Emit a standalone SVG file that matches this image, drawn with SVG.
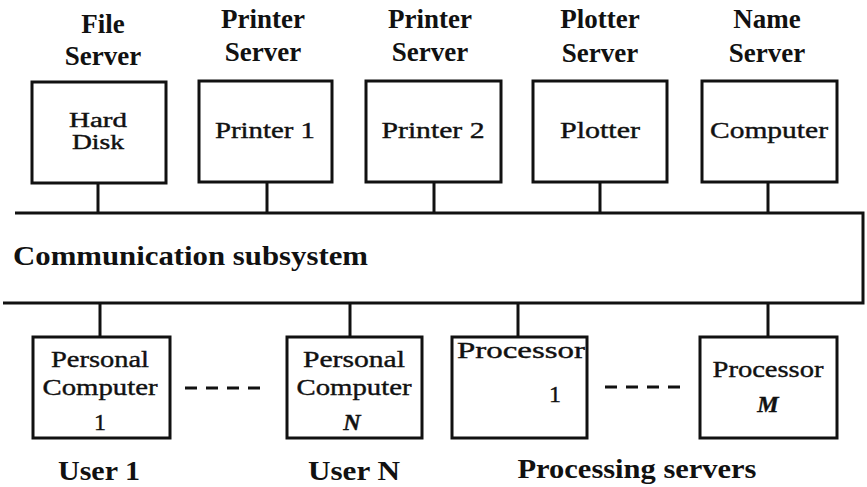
<svg xmlns="http://www.w3.org/2000/svg" width="867" height="487" viewBox="0 0 867 487">
  <style>
    .box { fill: #fff; stroke: #111; stroke-width: 3; }
    .wire { stroke: #111; stroke-width: 3; fill: none; }
    .dash { stroke: #111; stroke-width: 3; stroke-dasharray: 12 9; fill: none; }
    .hdr { font-family: "Liberation Serif", "Times New Roman", serif; font-size: 27px; font-weight: bold; fill: #111; text-anchor: middle; }
    .lbl { font-family: "Liberation Serif", "Times New Roman", serif; font-size: 24px; fill: #111; stroke: #111; stroke-width: 0.4; text-anchor: middle; }
    .it { font-style: italic; font-weight: bold; }
  </style>
  <rect width="867" height="487" fill="#fff"/>

  <!-- connectors: communication bus and drop lines -->
  <g id="connectors">
    <path class="wire" d="M15 213 H863 V303 H3"/>
    <line class="wire" x1="98" y1="183" x2="98" y2="213"/>
    <line class="wire" x1="267" y1="182" x2="267" y2="213"/>
    <line class="wire" x1="434" y1="182" x2="434" y2="213"/>
    <line class="wire" x1="600" y1="182" x2="600" y2="213"/>
    <line class="wire" x1="768" y1="182" x2="768" y2="213"/>
    <line class="wire" x1="100" y1="303" x2="100" y2="337"/>
    <line class="wire" x1="350" y1="303" x2="350" y2="337"/>
    <line class="wire" x1="518" y1="303" x2="518" y2="337"/>
    <line class="wire" x1="768" y1="303" x2="768" y2="337"/>
    <line class="dash" x1="185" y1="388" x2="260" y2="388"/>
    <line class="dash" x1="605" y1="387" x2="680" y2="387"/>
  </g>

  <g id="bus-label">
    <text class="hdr" x="13" y="265" style="text-anchor:start" textLength="355" lengthAdjust="spacingAndGlyphs">Communication subsystem</text>
  </g>

  <g id="file-server">
    <text class="hdr" x="103" y="33">File</text>
    <text class="hdr" x="103" y="65">Server</text>
    <rect class="box" x="32" y="82" width="134" height="101"/>
    <text class="lbl" x="98" y="127" style="font-size:20px" textLength="58" lengthAdjust="spacingAndGlyphs">Hard</text>
    <text class="lbl" x="98" y="149" style="font-size:20px" textLength="52" lengthAdjust="spacingAndGlyphs">Disk</text>
  </g>

  <g id="printer-server-1">
    <text class="hdr" x="263" y="28">Printer</text>
    <text class="hdr" x="263" y="61">Server</text>
    <rect class="box" x="199" y="81" width="133" height="101"/>
    <text class="lbl" x="265" y="138" textLength="100" lengthAdjust="spacingAndGlyphs">Printer 1</text>
  </g>

  <g id="printer-server-2">
    <text class="hdr" x="430" y="28">Printer</text>
    <text class="hdr" x="430" y="61">Server</text>
    <rect class="box" x="366" y="81" width="135" height="101"/>
    <text class="lbl" x="433" y="138" textLength="103" lengthAdjust="spacingAndGlyphs">Printer 2</text>
  </g>

  <g id="plotter-server">
    <text class="hdr" x="600" y="28">Plotter</text>
    <text class="hdr" x="600" y="62">Server</text>
    <rect class="box" x="533" y="81" width="134" height="101"/>
    <text class="lbl" x="600" y="138" textLength="80" lengthAdjust="spacingAndGlyphs">Plotter</text>
  </g>

  <g id="name-server">
    <text class="hdr" x="767" y="28">Name</text>
    <text class="hdr" x="767" y="62">Server</text>
    <rect class="box" x="702" y="81" width="135" height="101"/>
    <text class="lbl" x="769" y="138" textLength="118" lengthAdjust="spacingAndGlyphs">Computer</text>
  </g>

  <g id="pc-1">
    <rect class="box" x="33" y="337" width="137" height="101"/>
    <text class="lbl" x="100" y="367" textLength="98" lengthAdjust="spacingAndGlyphs">Personal</text>
    <text class="lbl" x="100" y="395" textLength="115" lengthAdjust="spacingAndGlyphs">Computer</text>
    <text class="lbl" x="100" y="430">1</text>
    <text class="hdr" x="99" y="480" textLength="82" lengthAdjust="spacingAndGlyphs">User 1</text>
  </g>

  <g id="pc-n">
    <rect class="box" x="287" y="337" width="135" height="101"/>
    <text class="lbl" x="354" y="367" textLength="102" lengthAdjust="spacingAndGlyphs">Personal</text>
    <text class="lbl" x="354" y="395" textLength="115" lengthAdjust="spacingAndGlyphs">Computer</text>
    <text class="lbl it" x="352" y="430">N</text>
    <text class="hdr" x="354" y="480" textLength="92" lengthAdjust="spacingAndGlyphs">User N</text>
  </g>

  <g id="processor-1">
    <rect class="box" x="452" y="337" width="135" height="101"/>
    <text class="lbl" x="521" y="358" textLength="128" lengthAdjust="spacingAndGlyphs">Processor</text>
    <text class="lbl" x="555" y="402">1</text>
  </g>

  <g id="processor-m">
    <rect class="box" x="700" y="337" width="137" height="101"/>
    <text class="lbl" x="768" y="377" textLength="111" lengthAdjust="spacingAndGlyphs">Processor</text>
    <text class="lbl it" x="768" y="412">M</text>
  </g>

  <g id="group-label">
    <text class="hdr" x="637" y="478" textLength="239" lengthAdjust="spacingAndGlyphs">Processing servers</text>
  </g>
</svg>
